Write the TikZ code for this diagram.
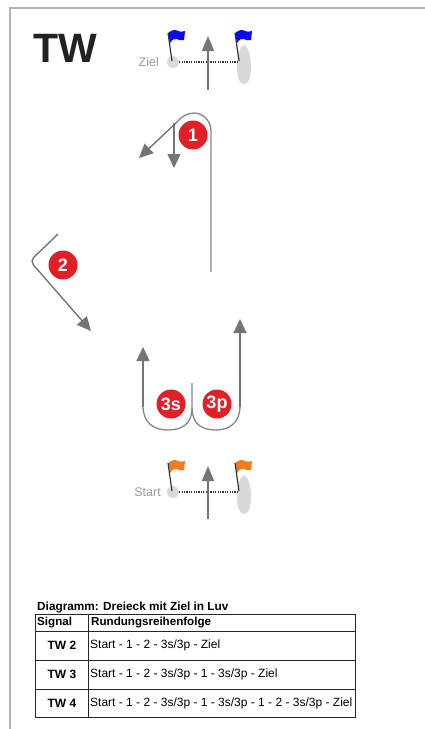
\documentclass[tikz,border=0pt]{standalone}
\usepackage{fontspec}
\setmainfont{Liberation Sans}
\usetikzlibrary{arrows.meta}
\definecolor{framegrey}{HTML}{B4B4B4}
\definecolor{pathgrey}{HTML}{858585}
\definecolor{arrowgrey}{HTML}{757575}
\definecolor{lightgrey}{HTML}{DADADA}
\definecolor{labelgrey}{HTML}{9A9A9A}
\definecolor{markred}{HTML}{E21E26}
\definecolor{flagblue}{HTML}{0A0AF0}
\definecolor{flagorange}{HTML}{F47C20}
\definecolor{titleblack}{HTML}{222222}
\tikzset{
  framestyle/.style={framegrey, line width=1.6pt},
  coursepath/.style={pathgrey, line width=1.3pt},
  coursearrow/.style={arrowgrey, line width=1.4pt, -{Triangle[length=14pt,width=13pt]}},
  windarrow/.style={arrowgrey, line width=1.5pt, -{Triangle[length=15pt,width=12pt]}},
  markdot/.style={circle, fill=markred, minimum size=29pt, inner sep=0pt, text=white, font=\bfseries\fontsize{18}{18}\selectfont},
  poleline/.style={draw=black!80, line width=1.2pt},
  lineconn/.style={black!80, line width=1.2pt, dash pattern=on 1.2pt off 1.2pt},
  buoy/.style={circle, fill=lightgrey, minimum size=12pt, inner sep=0pt},
  sidelabel/.style={text=labelgrey, anchor=east, inner sep=0pt, font=\fontsize{12.5}{13}\selectfont},
  tabtext/.style={anchor=west, inner sep=0pt, font=\fontsize{12}{13}\selectfont},
  tabbold/.style={anchor=west, inner sep=0pt, font=\bfseries\fontsize{11.6}{13}\selectfont},
  tabcenter/.style={inner sep=0pt, font=\bfseries\fontsize{12}{13}\selectfont},
  tableline/.style={black!85, line width=1pt},
  pics/flagpole/.style={code={
    \fill[#1] (0,0) .. controls (4,-3) and (7,-4) .. (10,-2) .. controls (12,-1) and (14,-1) .. (17,-2)
      -- (16,7) .. controls (13,8) and (11,7) .. (9,6) .. controls (6,5) and (4,7) .. (2,10) -- cycle;
    \draw[poleline] (0,0) -- (4,28);
  }},
  pics/boathull/.style={code={
    \fill[lightgrey] (0,0) .. controls (4,1) and (7,10) .. (7,21) .. controls (7,32) and (5,39) .. (0,39)
      .. controls (-5,39) and (-7,32) .. (-7,21) .. controls (-7,10) and (-4,1) .. (0,0) -- cycle;
  }}
}
\begin{document}
\begin{tikzpicture}[x=1pt,y=-1pt]
\useasboundingbox (0,0) rectangle (425,729);
% page frame
\coordinate (frameTL) at (10,8);
\coordinate (frameTR) at (425,8);
\coordinate (frameBL) at (10,729);
\draw[framestyle] (frameTR) -- (frameTL) -- (frameBL);

% title
\node[font=\bfseries\fontsize{41}{41}\selectfont, text=titleblack, inner sep=0pt] (title) at (65,48) {TW};

% ---------- finish line (Ziel) ----------
\pic at (244,45) {boathull};
\node[buoy] (zielbuoy) at (173,62) {};
\coordinate (zielboat) at (239,62);
\draw[lineconn] (zielbuoy.east) -- (zielboat);
\pic at (168,33) {flagpole=flagblue};
\pic at (235,33) {flagpole=flagblue};
\node[sidelabel] (ziellabel) at (159,62) {Ziel};
\coordinate (zielwindA) at (208,90);
\coordinate (zielwindB) at (208,36);
\draw[windarrow] (zielwindA) -- (zielwindB);

% ---------- mark 1 ----------
\coordinate (m1start) at (211,272);
\coordinate (m1split) at (177,122);
\coordinate (m1tipA) at (139,158);
\coordinate (m1downA) at (174,123);
\coordinate (m1tipB) at (174,168);
\draw[coursepath] (m1start) -- (211,131) .. controls (211,121) and (203,113) .. (194,113)
   .. controls (187,113) and (181,117) .. (m1split);
\draw[coursearrow] (m1split) -- (m1tipA);
\draw[coursearrow] (m1downA) -- (m1tipB);
\node[markdot] (mark1) at (193,135) {1};

% ---------- mark 2 ----------
\coordinate (m2start) at (58,234);
\coordinate (m2corner) at (30,261);
\coordinate (m2tip) at (91,331);
\draw[coursearrow, rounded corners=5pt] (m2start) -- (m2corner) -- (m2tip);
\node[markdot] (mark2) at (63,265) {2};

% ---------- gate 3s/3p ----------
\coordinate (gmid) at (192,383);
\coordinate (g3stip) at (143,347);
\coordinate (g3ptip) at (240,319);
\draw[coursepath] (gmid) -- (192,408) .. controls (192,424) and (182,430) .. (167.5,430)
   .. controls (153,430) and (143,422) .. (143,406);
\draw[coursearrow] (143,406.5) -- (g3stip);
\draw[coursepath] (192,408) .. controls (192,424) and (202,430) .. (216,430)
   .. controls (230,430) and (240,422) .. (240,406);
\draw[coursearrow] (240,406.5) -- (g3ptip);
\node[markdot] (mark3s) at (171,404) {3s};
\node[markdot] (mark3p) at (217,404) {3p};

% ---------- start line ----------
\pic at (244,475) {boathull};
\node[buoy] (startbuoy) at (173,492) {};
\coordinate (startboat) at (239,492);
\draw[lineconn] (startbuoy.east) -- (startboat);
\pic at (168,463) {flagpole=flagorange};
\pic at (235,463) {flagpole=flagorange};
\node[sidelabel] (startlabel) at (161,492) {Start};
\coordinate (startwindA) at (208,519);
\coordinate (startwindB) at (208,466);
\draw[windarrow] (startwindA) -- (startwindB);

% ---------- table ----------
\node[tabbold, font=\bfseries\fontsize{11.8}{13}\selectfont] (tabtitle) at (37,607) {Diagramm: Dreieck mit Ziel in Luv};
\draw[tableline] (35,614) rectangle (355,717);
\draw[tableline] (35,631) -- (355,631);
\draw[tableline] (35,660) -- (355,660);
\draw[tableline] (35,689) -- (355,689);
\draw[tableline] (88,614) -- (88,717);
\node[tabbold] (hsignal) at (37,622.5) {Signal};
\node[tabbold] (hfolge) at (91,622.5) {Rundungsreihenfolge};
\node[tabcenter] (s2) at (62,645.5) {TW 2};
\node[tabcenter] (s3) at (62,674.5) {TW 3};
\node[tabcenter] (s4) at (62,703) {TW 4};
\node[tabtext] (r2) at (90,645.5) {Start - 1 - 2 - 3s/3p - Ziel};
\node[tabtext] (r3) at (90,674.5) {Start - 1 - 2 - 3s/3p - 1 - 3s/3p - Ziel};
\node[tabtext] (r4) at (90,703) {Start - 1 - 2 - 3s/3p - 1 - 3s/3p - 1 - 2 - 3s/3p - Ziel};
\end{tikzpicture}
\end{document}
